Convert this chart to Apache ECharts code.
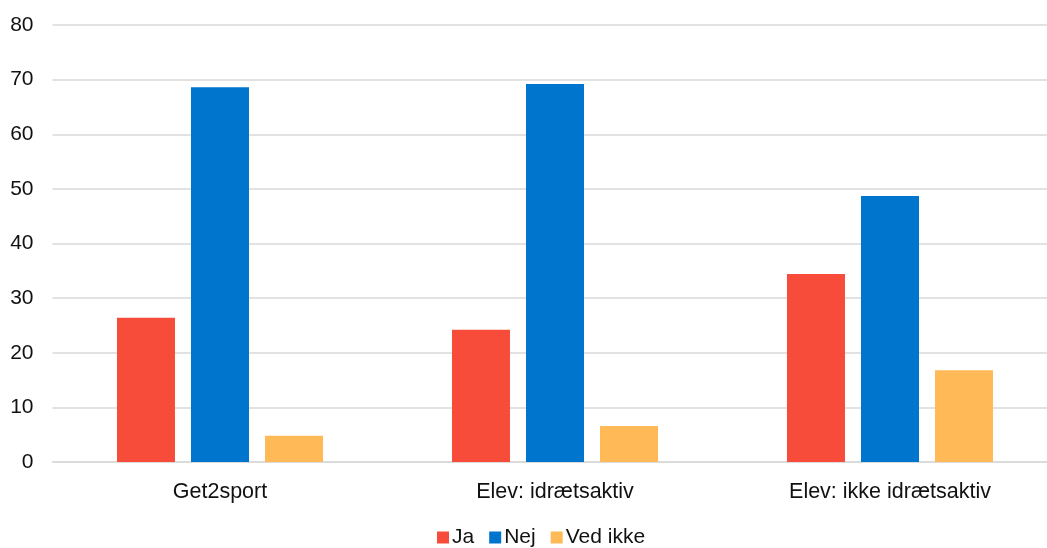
<!DOCTYPE html>
<html><head><meta charset="utf-8">
<script src="https://cdn.jsdelivr.net/npm/echarts@6/dist/echarts.min.js"></script>
<style>html,body{margin:0;padding:0;background:#fff}#c{width:1047px;height:548px}</style>
</head><body><div id="c"></div>
<script>
const categories = ['Get2sport', 'Elev: idrætsaktiv', 'Elev: ikke idrætsaktiv'];
const ja = [26.4, 24.2, 34.4];
const nej = [68.6, 69.2, 48.7];
const vedIkke = [4.8, 6.6, 16.8];
const seriesNames = ['Ja', 'Nej', 'Ved ikke'];
const yTicks = { min: 0, max: 80, interval: 10 };

const colors = ['#F84C3B', '#0075CE', '#FFB957'];
const font = 'Liberation Sans, Arial, sans-serif';
const chart = echarts.init(document.getElementById('c'));
const mk = (name, data, i) => ({
  name, type: 'bar', data,
  barWidth: 58, barGap: '27.6%',
  itemStyle: { color: colors[i] }
});
chart.setOption({
  animation: false,
  grid: { left: 52.5, width: 1005, top: 25, height: 437, outerBoundsMode: 'none', containLabel: false },
  legend: {
    top: 522, left: 432,
    itemWidth: 12, itemHeight: 12, itemGap: 15,
    icon: 'rect',
    textStyle: { fontFamily: font, fontSize: 21, color: '#111', padding: [0,0,0,-2] },
    data: seriesNames
  },
  xAxis: {
    type: 'category', data: categories,
    axisLine: { lineStyle: { color: '#d9d9d9', width: 1.5 } },
    axisTick: { show: false },
    axisLabel: { fontFamily: font, fontSize: 21.5, color: '#111', margin: 19 }
  },
  yAxis: {
    type: 'value', min: yTicks.min, max: yTicks.max, interval: yTicks.interval,
    axisLine: { show: false }, axisTick: { show: false },
    axisLabel: { fontFamily: font, fontSize: 21, color: '#111', margin: 19 },
    splitLine: { lineStyle: { color: '#d9d9d9', width: 1.5 } }
  },
  series: [mk(seriesNames[0], ja, 0), mk(seriesNames[1], nej, 1), mk(seriesNames[2], vedIkke, 2)]
});
</script></body></html>
